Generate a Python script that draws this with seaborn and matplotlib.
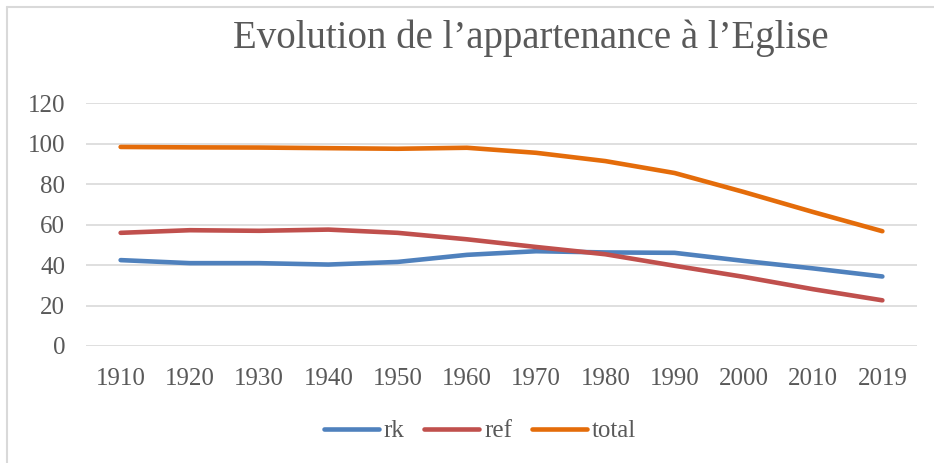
import matplotlib
matplotlib.use("Agg")
import matplotlib.pyplot as plt
import seaborn as sns
import pandas as pd
from matplotlib.lines import Line2D

years = ["1910", "1920", "1930", "1940", "1950", "1960", "1970", "1980", "1990", "2000", "2010", "2019"]
rk = [42.5, 41.0, 41.0, 40.3, 41.6, 45.1, 46.9, 46.3, 46.1, 42.1, 38.4, 34.4]
ref = [56.0, 57.3, 57.0, 57.6, 56.0, 52.8, 49.0, 45.4, 39.7, 34.2, 28.1, 22.6]
total = [98.5, 98.3, 98.2, 97.9, 97.6, 98.1, 95.6, 91.5, 85.6, 76.2, 66.3, 56.8]
series_names = ["rk", "ref", "total"]
colors = ["#4F81BD", "#C0504D", "#E46C0A"]

df = pd.DataFrame({
    "year": years * 3,
    "value": rk + ref + total,
    "series": [s for s in series_names for _ in years],
})
df["x"] = list(range(len(years))) * 3

sns.set_theme(style="white")
plt.rcParams["font.family"] = ["Liberation Serif", "DejaVu Serif"]

W, H = 934, 463
fig = plt.figure(figsize=(W / 100, H / 100), dpi=100)
ax = fig.add_axes([86 / W, 1 - 346 / H, (917 - 86) / W, (346 - 103.5) / H])

sns.lineplot(data=df, x="x", y="value", hue="series", palette=colors,
             linewidth=3.3, ax=ax, legend=False, sort=False)
for ln in ax.get_lines():
    ln.set_solid_capstyle("round")
    ln.set_solid_joinstyle("round")

ax.set_xlim(-0.5, len(years) - 0.5)
ax.set_ylim(0, 120)
ax.set_yticks(range(0, 121, 20))
ax.set_xticks(range(len(years)))
ax.set_xticklabels(years)
ax.set_xlabel("")
ax.set_ylabel("")
ax.grid(axis="y", color="#D9D9D9", linewidth=1.2)
ax.grid(axis="x", visible=False)
ax.set_axisbelow(True)
for s in ax.spines.values():
    s.set_visible(False)
ax.tick_params(axis="both", length=0, labelsize=18, labelcolor="#595959")
ax.tick_params(axis="x", pad=16)
ax.tick_params(axis="y", pad=15)

fig.text(531 / W, 1 - 48 / H, "Evolution de l\u2019appartenance \u00e0 l\u2019Eglise",
         ha="center", va="baseline", fontsize=28, color="#595959")

handles = [Line2D([0], [0], color=c, linewidth=3.3, solid_capstyle="round") for c in colors]
fig.legend(handles, series_names, loc="center", bbox_to_anchor=(480 / W, 1 - 431 / H),
           ncol=3, frameon=False, fontsize=18, labelcolor="#595959",
           handlelength=2.2, handletextpad=0.2, columnspacing=0.8)

# chart area border
fig.add_artist(Line2D([7 / W, 1.0], [1 - 6.5 / H, 1 - 6.5 / H], color="#D9D9D9", linewidth=1.5,
                      transform=fig.transFigure))
fig.add_artist(Line2D([7 / W, 7 / W], [0.0, 1 - 6.5 / H], color="#D9D9D9", linewidth=1.5,
                      transform=fig.transFigure))

fig.savefig("out.png", dpi=100)
